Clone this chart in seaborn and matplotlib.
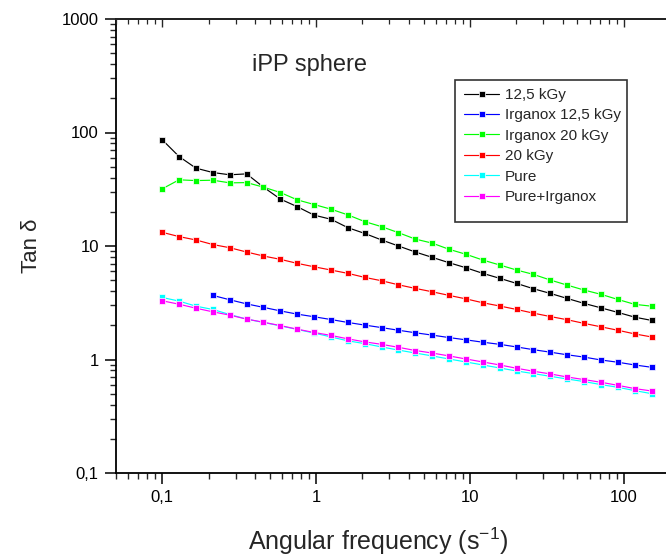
import matplotlib
matplotlib.use("Agg")
import matplotlib.pyplot as plt
import seaborn as sns
import pandas as pd
import numpy as np
from matplotlib.patches import Rectangle
from matplotlib.ticker import FixedLocator, FuncFormatter, LogLocator, NullFormatter

# ---------------- data ----------------
freq = [0.1, 0.1287, 0.1657, 0.2133, 0.2746, 0.3535, 0.4551, 0.5858, 0.7541, 0.9708,
        1.25, 1.609, 2.071, 2.666, 3.432, 4.418, 5.687, 7.321, 9.425, 12.13,
        15.62, 20.11, 25.88, 33.32, 42.89, 55.21, 71.07, 91.49, 117.8, 151.6]

kgy125 = [86.3, 61.4, 48.5, 44.4, 42.4, 43.2, 33.0, 25.9, 22.2, 18.7,
          17.2, 14.5, 12.9, 11.3, 10.0, 8.85, 7.94, 7.12, 6.43, 5.74,
          5.19, 4.68, 4.20, 3.82, 3.45, 3.12, 2.85, 2.60, 2.36, 2.21]

irg125 = [3.67, 3.36, 3.09, 2.88, 2.68, 2.51, 2.38,
          2.25, 2.12, 2.01, 1.91, 1.81, 1.72, 1.64, 1.56, 1.49, 1.42,
          1.36, 1.29, 1.22, 1.16, 1.10, 1.05, 0.99, 0.946, 0.895, 0.854]
irg125_freq = freq[3:]

irg20 = [31.9, 38.3, 37.7, 38.0, 36.0, 36.2, 33.0, 29.6, 25.5, 23.2,
         21.1, 18.8, 16.4, 14.8, 13.1, 11.5, 10.6, 9.35, 8.45, 7.52,
         6.80, 6.14, 5.62, 5.01, 4.52, 4.09, 3.75, 3.38, 3.06, 2.95]

kgy20 = [13.2, 12.1, 11.3, 10.3, 9.66, 8.85, 8.16, 7.63, 7.03, 6.56,
         6.14, 5.74, 5.29, 4.94, 4.55, 4.23, 3.95, 3.67, 3.42, 3.16,
         2.96, 2.76, 2.56, 2.39, 2.24, 2.08, 1.94, 1.81, 1.68, 1.58]

pure = [3.52, 3.27, 2.95, 2.76, 2.49, 2.27, 2.12, 1.98, 1.84, 1.71,
        1.58, 1.46, 1.38, 1.29, 1.21, 1.14, 1.075, 1.01, 0.951, 0.895,
        0.842, 0.792, 0.751, 0.711, 0.673, 0.639, 0.601, 0.569, 0.532, 0.500]

pure_irg = [3.29, 3.07, 2.83, 2.63, 2.46, 2.27, 2.13, 1.99, 1.85, 1.73,
            1.63, 1.52, 1.43, 1.36, 1.28, 1.20, 1.14, 1.075, 1.01, 0.951,
            0.895, 0.837, 0.788, 0.746, 0.701, 0.665, 0.630, 0.592, 0.554, 0.528]

labels = ["12,5 kGy", "Irganox 12,5 kGy", "Irganox 20 kGy", "20 kGy", "Pure", "Pure+Irganox"]
colors = ["#000000", "#0000ff", "#00ff00", "#ff0000", "#00ffff", "#ff00ff"]

xticks = [0.1, 1, 10, 100]
xticklabels = ["0,1", "1", "10", "100"]
yticks = [0.1, 1, 10, 100, 1000]
yticklabels = ["0,1", "1", "10", "100", "1000"]

series = [(freq, kgy125), (irg125_freq, irg125), (freq, irg20),
          (freq, kgy20), (freq, pure), (freq, pure_irg)]

rows = []
for lab, (xs, ys) in zip(labels, series):
    for xv, yv in zip(xs, ys):
        rows.append({"freq": xv, "tan": yv, "sample": lab})
df = pd.DataFrame(rows)

# ---------------- plot ----------------
sns.set_style("ticks")
plt.rcParams["font.family"] = ["Liberation Sans", "DejaVu Sans"]
plt.rcParams["mathtext.fontset"] = "custom"
plt.rcParams["mathtext.rm"] = "Liberation Sans"
plt.rcParams["mathtext.it"] = "Liberation Sans:italic"

W, H = 666, 556
L, T, B = 115.5, 19, 473
fig = plt.figure(figsize=(6.66, 5.56), dpi=100)
ax = fig.add_axes([L / W, 1 - B / H, 1 - L / W, (B - T) / H])

sns.lineplot(data=df, x="freq", y="tan", hue="sample", hue_order=labels,
             palette=dict(zip(labels, colors)), marker="s", markersize=4.6,
             markeredgewidth=0.5, linewidth=0.85, dashes=False, ax=ax, sort=True,
             estimator=None)

ax.set_xscale("log")
ax.set_yscale("log")
xlim = (0.0497, 188)
ax.set_xlim(*xlim)
ax.set_ylim(0.1, 1000)

ax.xaxis.set_major_locator(FixedLocator(xticks))
ax.xaxis.set_major_formatter(FuncFormatter(lambda v, p: xticklabels[xticks.index(v)] if v in xticks else ""))
ax.yaxis.set_major_locator(FixedLocator(yticks))
ax.yaxis.set_major_formatter(FuncFormatter(lambda v, p: yticklabels[yticks.index(v)] if v in yticks else ""))
ax.xaxis.set_minor_locator(LogLocator(base=10, subs=np.arange(2, 10), numticks=20))
ax.yaxis.set_minor_locator(LogLocator(base=10, subs=np.arange(2, 10), numticks=20))
ax.xaxis.set_minor_formatter(NullFormatter())
ax.yaxis.set_minor_formatter(NullFormatter())

ax.tick_params(axis="both", which="major", direction="out", length=8, width=1.1,
               labelsize=12, colors="black", pad=4)
ax.tick_params(axis="both", which="minor", direction="out", length=4.5, width=1.0)
ax.tick_params(axis="x", which="both", top=False)

for side in ["left", "bottom", "top"]:
    ax.spines[side].set_linewidth(1.3)
    ax.spines[side].set_color("black")
ax.spines["right"].set_visible(False)

# top ticks pointing inward
ax2 = ax.twiny()
ax2.set_xscale("log")
ax2.set_xlim(*xlim)
ax2.xaxis.set_major_locator(FixedLocator(xticks))
ax2.xaxis.set_minor_locator(LogLocator(base=10, subs=np.arange(2, 10), numticks=20))
ax2.xaxis.set_major_formatter(NullFormatter())
ax2.xaxis.set_minor_formatter(NullFormatter())
ax2.tick_params(axis="x", which="major", direction="in", length=6, width=1.0, labeltop=False)
ax2.tick_params(axis="x", which="minor", direction="in", length=3.5, width=0.9)
for side in ["left", "bottom", "right"]:
    ax2.spines[side].set_visible(False)
ax2.spines["top"].set_linewidth(1.3)

ax.set_xlabel("Angular frequency (s$^{-1}$)", fontsize=18)
ax.set_ylabel("Tan δ", fontsize=16)
ax.xaxis.set_label_coords((378 - L) / (W - L), -0.115)
ax.yaxis.set_label_coords(-(L - 42) / (W - L), (B - 246) / (B - T))

fig.text(252 / W, 1 - 71 / H, "iPP sphere", fontsize=17, va="baseline", ha="left")

handles, labs = ax.get_legend_handles_labels()
leg = ax.legend(handles, labs, loc="upper left",
                bbox_to_anchor=((464 - L) / (W - L), (B - 88) / (B - T)),
                borderaxespad=0, frameon=False, fontsize=11,
                handlelength=2.3, handletextpad=0.4, labelspacing=0.42,
                borderpad=0.0)

# legend box (the original frame has extra space below the last entry)
ax.add_patch(Rectangle(((455 - L) / (W - L), (B - 222) / (B - T)),
                       (627 - 455) / (W - L), (222 - 80) / (B - T),
                       transform=ax.transAxes, fill=False, edgecolor="#333333",
                       linewidth=1.2, zorder=5))

fig.savefig("out.png", dpi=100)
